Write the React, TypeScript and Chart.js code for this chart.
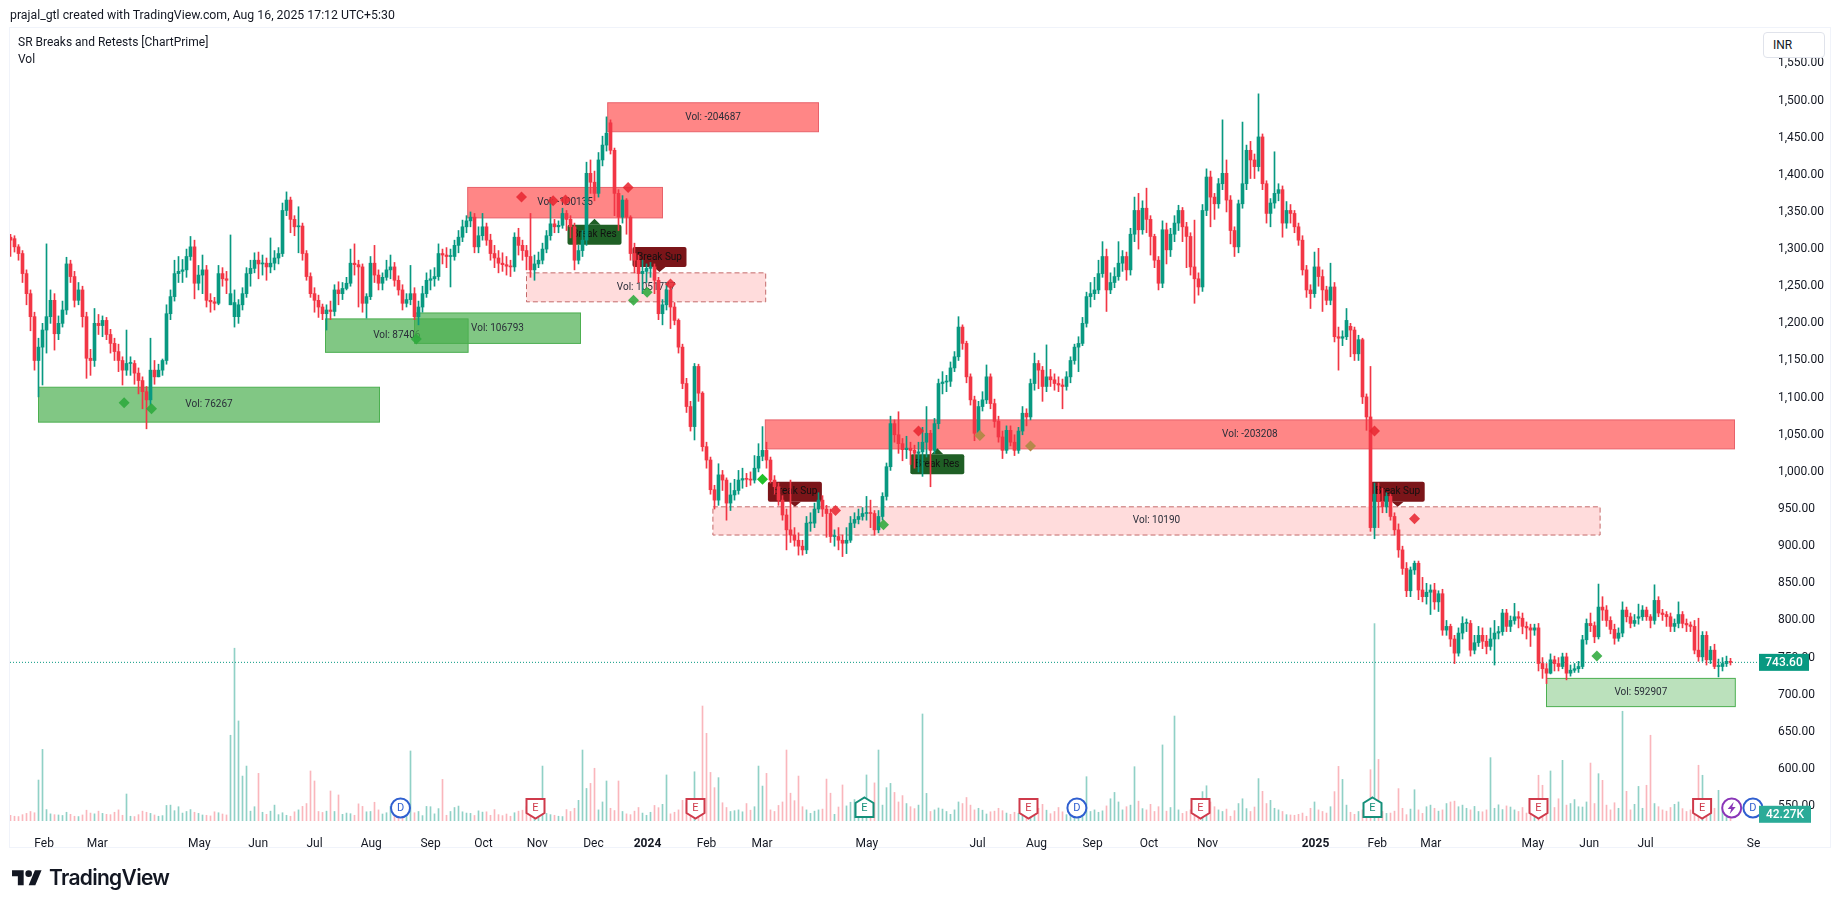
import { useEffect, useRef } from 'react'
import { Chart, registerables } from 'chart.js'

Chart.register(...registerables)

const UP = '#089981'
const DOWN = '#f23645'
const FONT = 'Roboto, "Open Sans", sans-serif'

const opens = [
  1316,1314,1303,1294,1267,1240,1209,1150,1168,1191,
  1209,1231,1186,1200,1218,1280,1263,1231,1245,1209,
  1153,1150,1200,1197,1204,1185,1173,1162,1150,1137,
  1146,1146,1133,1123,1108,1097,1137,1128,1137,1150,
  1213,1236,1267,1270,1272,1290,1303,1254,1265,1272,
  1231,1229,1227,1267,1260,1225,1209,1209,1225,1240,
  1267,1274,1285,1280,1281,1276,1281,1288,1294,1352,
  1366,1340,1330,1331,1294,1263,1240,1231,1222,1213,
  1218,1216,1245,1240,1247,1254,1281,1279,1276,1227,
  1236,1281,1265,1254,1262,1272,1276,1258,1245,1227,
  1232,1240,1209,1222,1240,1258,1260,1263,1294,1292,
  1290,1290,1305,1316,1330,1338,1343,1303,1318,1330,
  1312,1294,1288,1281,1279,1277,1276,1316,1305,1298,
  1290,1272,1280,1285,1300,1318,1334,1330,1332,1348,
  1340,1330,1285,1298,1312,1402,1390,1375,1420,1440,
  1470,1433,1375,1343,1366,1343,1294,1285,1267,1270,
  1274,1276,1258,1213,1225,1245,1222,1204,1168,1119,
  1088,1061,1142,1106,1034,1016,976,962,996,989,
  958,969,975,989,991,990,989,1005,1021,1029,
  1016,989,980,962,942,922,915,908,900,895,
  931,931,950,962,950,944,913,913,908,904,
  908,931,936,940,944,945,944,922,940,967,
  1007,1065,1050,1038,1030,1032,1029,1025,1027,1040,
  1052,1029,1065,1119,1121,1122,1140,1155,1195,1173,
  1128,1097,1052,1088,1097,1128,1092,1068,1047,1029,
  1056,1040,1029,1055,1079,1074,1119,1146,1137,1115,
  1128,1124,1119,1117,1115,1128,1150,1168,1173,1200,
  1236,1240,1245,1267,1290,1245,1255,1263,1281,1290,
  1272,1320,1352,1326,1355,1340,1317,1285,1254,1326,
  1299,1320,1335,1352,1330,1317,1276,1260,1249,1352,
  1397,1370,1361,1388,1402,1366,1325,1303,1361,1388,
  1433,1420,1411,1451,1388,1348,1362,1375,1380,1335,
  1352,1348,1330,1312,1272,1245,1240,1276,1263,1245,
  1231,1249,1182,1180,1182,1196,1191,1159,1178,
  1101,1074,925,970,960,953,967,940,922,895,
  870,840,868,877,841,832,838,841,825,836,
  787,792,775,756,783,796,796,760,770,780,
  772,765,775,783,785,810,792,800,805,803,
  792,790,787,790,742,735,729,747,742,738,
  751,729,733,735,738,774,796,793,778,818,
  814,800,788,776,783,814,805,796,803,
  805,814,805,800,827,810,808,805,792,796,
  808,796,794,792,760,751,780,747,760,738,
  738,742,745,
]
const highs = [
  1320,1318,1306,1298,1272,1245,1215,1180,1200,1307,
  1245,1240,1210,1230,1289,1285,1270,1255,1250,1215,
  1165,1220,1212,1210,1208,1192,1180,1172,1155,1191,
  1155,1150,1140,1128,1115,1180,1150,1145,1152,1225,
  1245,1285,1290,1286,1300,1317,1312,1278,1292,1278,
  1240,1235,1278,1275,1270,1319,1245,1232,1248,1275,
  1285,1295,1296,1292,1288,1315,1298,1302,1362,1377,
  1370,1345,1357,1335,1298,1268,1248,1238,1226,1225,
  1230,1252,1256,1255,1262,1300,1307,1285,1280,1240,
  1290,1305,1272,1268,1285,1292,1282,1264,1252,1240,
  1278,1248,1230,1250,1268,1272,1275,1307,1300,1302,
  1300,1312,1325,1339,1345,1350,1348,1330,1348,1335,
  1320,1305,1298,1295,1290,1285,1322,1328,1312,1305,
  1348,1292,1296,1308,1325,1366,1340,1338,1355,1352,
  1345,1335,1305,1325,1417,1420,1405,1430,1452,1478,
  1474,1436,1380,1372,1368,1345,1308,1292,1285,1280,
  1282,1280,1262,1232,1255,1250,1228,1206,1172,1126,
  1095,1146,1145,1108,1040,1020,982,1011,1002,992,
  985,990,1002,1005,998,1000,1022,1038,1061,1040,
  1020,995,985,968,950,989,925,918,908,940,
  945,958,972,968,955,950,922,925,915,925,
  940,945,950,952,967,962,948,948,972,1012,
  1075,1070,1081,1045,1048,1040,1036,1040,1060,1088,
  1056,1072,1125,1135,1130,1148,1162,1209,1198,1176,
  1132,1102,1095,1108,1144,1132,1098,1075,1055,1062,
  1062,1050,1060,1088,1085,1125,1160,1150,1142,1171,
  1138,1132,1128,1125,1135,1155,1172,1182,1208,1242,
  1255,1262,1285,1310,1300,1268,1275,1310,1298,1296,
  1328,1370,1375,1365,1382,1345,1320,1290,1338,1335,
  1328,1345,1359,1356,1336,1322,1339,1268,1360,1408,
  1405,1375,1395,1474,1420,1372,1330,1366,1471,1440,
  1445,1428,1509,1455,1392,1368,1431,1388,1385,1364,
  1360,1352,1335,1318,1278,1252,1296,1301,1272,1250,
  1281,1255,1195,1190,1220,1200,1195,1184,1180,
  1105,1142,985,985,978,972,970,945,930,900,
  878,872,880,880,858,850,848,850,840,842,
  800,795,780,790,805,802,800,780,792,790,
  780,790,800,792,815,815,806,823,812,810,
  798,795,795,796,750,742,755,752,750,756,
  756,740,742,745,780,802,810,798,849,832,
  820,805,795,790,825,818,810,808,822,
  820,818,808,848,832,815,812,810,802,825,
  812,802,798,800,803,785,785,765,768,748,
  750,752,749,
]
const lows = [
  1290,1296,1285,1255,1225,1190,1137,1101,1117,1160,
  1200,1164,1178,1195,1212,1255,1222,1225,1195,1126,
  1130,1142,1185,1182,1178,1160,1150,1135,1117,1130,
  1130,1118,1105,1085,1058,1090,1118,1128,1130,1145,
  1205,1230,1255,1255,1262,1285,1233,1245,1240,1222,
  1215,1218,1225,1250,1240,1225,1195,1200,1218,1235,
  1250,1268,1260,1265,1258,1268,1272,1280,1290,1345,
  1322,1318,1295,1285,1258,1235,1215,1208,1205,1191,
  1205,1210,1225,1232,1245,1250,1265,1222,1215,1207,
  1232,1255,1245,1245,1258,1260,1250,1238,1218,1222,
  1225,1205,1198,1215,1235,1245,1250,1258,1280,1275,
  1249,1285,1295,1310,1322,1330,1295,1295,1312,1305,
  1285,1275,1268,1270,1265,1263,1270,1292,1285,1272,
  1262,1258,1275,1280,1295,1312,1322,1322,1328,1325,
  1315,1272,1280,1290,1305,1375,1365,1370,1412,1432,
  1428,1345,1325,1335,1320,1285,1268,1255,1240,1255,
  1262,1240,1205,1198,1218,1193,1198,1160,1112,1080,
  1055,1043,1095,1028,1005,970,950,955,975,935,
  948,962,970,978,980,982,985,1000,1015,1005,
  985,970,955,935,895,905,900,888,888,890,
  920,925,945,940,912,905,900,895,886,890,
  905,925,930,935,935,925,915,918,935,962,
  1002,1040,1025,1015,1018,1010,1005,1000,994,1020,
  980,1025,1058,1105,1108,1115,1135,1150,1165,1120,
  1090,1042,1048,1082,1092,1085,1060,1040,1018,1025,
  1035,1022,1025,1050,1062,1070,1110,1112,1095,1108,
  1115,1110,1108,1085,1110,1120,1145,1135,1170,1195,
  1222,1232,1240,1262,1216,1240,1248,1258,1270,1258,
  1265,1310,1300,1320,1322,1292,1275,1245,1248,1280,
  1290,1310,1325,1310,1275,1265,1227,1238,1243,1345,
  1330,1340,1355,1380,1350,1307,1290,1295,1355,1380,
  1395,1395,1405,1380,1335,1330,1355,1365,1316,1328,
  1335,1322,1305,1265,1235,1220,1235,1250,1216,1225,
  1225,1175,1137,1170,1178,1155,1150,1150,1092,
  1056,920,910,925,945,945,935,915,885,862,
  832,832,862,828,825,822,808,815,812,780,
  780,765,742,752,775,785,752,755,765,762,
  755,760,740,775,780,785,785,795,790,782,
  775,765,780,732,722,715,728,732,732,735,
  720,725,730,730,735,768,785,770,775,800,
  792,782,768,772,778,798,790,792,795,
  800,800,790,795,805,800,792,785,785,790,
  790,785,785,755,745,745,740,742,735,724,
  732,738,740,
]
const closes = [
  1312,1303,1294,1267,1240,1209,1150,1168,1191,1209,
  1231,1186,1200,1218,1280,1263,1231,1245,1209,1153,
  1150,1200,1197,1204,1185,1173,1162,1150,1137,1146,
  1146,1133,1123,1108,1097,1137,1128,1137,1150,1213,
  1236,1267,1270,1272,1290,1303,1254,1265,1272,1231,
  1229,1227,1267,1260,1258,1240,1228,1225,1240,1267,
  1274,1285,1280,1281,1276,1281,1288,1294,1352,1366,
  1340,1330,1331,1294,1263,1240,1231,1222,1213,1218,
  1216,1245,1240,1247,1254,1281,1279,1276,1227,1236,
  1281,1265,1254,1262,1272,1276,1258,1245,1227,1232,
  1240,1209,1222,1240,1258,1260,1263,1294,1292,1290,
  1290,1305,1316,1330,1338,1343,1303,1318,1330,1312,
  1294,1288,1281,1279,1277,1276,1316,1305,1298,1290,
  1272,1280,1285,1300,1318,1334,1330,1332,1348,1340,
  1330,1285,1298,1312,1402,1390,1375,1420,1440,1456,
  1433,1375,1343,1366,1343,1294,1285,1267,1270,1274,
  1276,1258,1213,1225,1245,1222,1204,1168,1119,1088,
  1061,1142,1106,1034,1016,976,962,996,989,958,
  969,975,989,991,990,989,1005,1021,1029,1016,
  989,980,962,942,922,915,908,900,895,931,
  931,950,962,950,944,913,913,908,904,908,
  931,936,940,944,945,944,922,940,967,1007,
  1065,1050,1038,1030,1032,1029,1025,1027,1040,1052,
  1029,1065,1119,1121,1122,1140,1155,1195,1173,1128,
  1097,1052,1088,1097,1128,1092,1068,1047,1029,1056,
  1040,1029,1055,1079,1074,1119,1146,1137,1115,1128,
  1124,1119,1117,1115,1128,1150,1168,1173,1200,1236,
  1240,1245,1267,1290,1245,1255,1263,1281,1290,1272,
  1320,1352,1326,1355,1340,1317,1285,1254,1326,1299,
  1320,1335,1352,1330,1317,1276,1260,1249,1352,1397,
  1370,1361,1388,1402,1366,1325,1303,1361,1388,1433,
  1420,1411,1451,1388,1348,1362,1375,1380,1335,1352,
  1348,1330,1312,1272,1245,1240,1276,1263,1245,1231,
  1249,1182,1180,1182,1204,1191,1159,1178,1101,
  1074,925,970,960,953,967,940,922,895,870,
  840,868,877,841,832,838,841,825,836,787,
  792,775,756,783,796,796,760,770,780,772,
  765,775,783,785,810,792,800,805,803,792,
  790,787,790,742,735,729,747,742,738,751,
  729,733,735,738,774,796,793,778,818,814,
  800,788,776,783,814,805,796,800,805,
  814,805,800,827,810,808,805,792,796,808,
  796,794,792,760,751,780,747,760,738,738,
  742,745,743.6,
]
// volume in thousands
const volumes = [
  35,30,28,40,48,60,52,258,451,72,
  45,40,38,35,55,42,30,28,38,68,
  50,45,62,48,42,40,55,70,36,170,
  30,28,40,62,55,48,38,30,34,98,
  100,65,90,50,60,72,55,48,38,36,
  32,58,52,44,38,540,1088,630,283,346,
  62,90,300,55,42,62,100,40,52,36,
  30,58,70,92,110,315,252,60,54,62,
  189,60,164,42,50,46,36,108,92,58,
  60,118,70,44,52,92,30,58,70,110,
  441,52,60,34,92,90,45,78,262,36,
  60,85,94,58,50,48,35,64,56,58,
  36,72,40,34,44,30,52,62,68,90,
  60,50,90,346,48,40,36,30,28,72,
  60,80,130,447,205,237,332,70,120,252,
  80,66,252,60,45,40,62,85,50,36,
  55,98,84,105,290,45,55,70,130,115,
  90,310,140,724,552,306,210,273,115,85,
  60,65,70,58,110,68,90,346,220,300,
  70,60,98,120,447,175,128,283,90,70,
  48,62,70,75,264,175,42,88,227,95,
  118,135,60,85,290,120,240,447,100,210,
  237,180,120,160,110,90,78,100,674,174,
  60,70,82,75,60,42,70,120,110,148,
  100,70,80,68,44,58,62,80,65,50,
  42,55,48,60,70,48,35,80,105,68,
  46,60,85,58,40,70,62,88,42,279,
  60,70,55,64,95,140,180,120,70,90,
  100,342,125,78,70,105,60,90,479,62,
  85,661,70,48,60,70,58,92,185,222,
  120,90,70,60,75,30,65,110,140,78,
  60,88,267,187,110,130,80,70,60,40,
  38,36,42,50,30,80,120,70,60,50,
  90,185,344,262,100,55,42,60,70,
  62,323,1243,388,60,48,50,62,204,80,
  40,75,197,70,48,90,100,80,62,70,
  110,120,125,90,100,80,70,92,60,58,
  70,399,80,102,72,95,88,70,60,85,
  50,90,120,288,225,70,315,85,140,382,
  100,110,135,90,88,120,365,110,298,256,
  100,70,115,80,691,187,70,105,218,
  80,225,540,110,90,70,62,85,105,120,
  78,60,70,120,351,288,100,90,80,193,
  75,50,42.27,
]

const priceTicks = [550,600,650,700,750,800,850,900,950,1000,1050,1100,1150,1200,1250,1300,1350,1400,1450,1500,1550]
const timeLabels = ['Feb','Mar','May','Jun','Jul','Aug','Sep','Oct','Nov','Dec','2024','Feb','Mar','May','Jul','Aug','Sep','Oct','Nov','2025','Feb','Mar','May','Jun','Jul','Se']
const timeBars = [8.4,21.7,47.2,61.9,76,90.2,105,118.25,131.7,145.75,159.25,174,187.9,214.1,241.75,256.5,270.5,284.6,299.25,326.25,341.7,355.1,380.6,394.7,408.75,435.75]

// zones: bar range, price range
const zoneText = ['Vol: 76267','Vol: 87406','Vol: 106793','Vol: -100135','Vol: -204687','Vol: 1051777','Vol: -203208','Vol: 10190','Vol: 592907']
const zoneKind = ['green','green','green','red','red','paleRed','red','paleRed','paleGreen']
const zoneFrom = [7,78.75,101,114.3,149.3,129,188.7,175.6,384]
const zoneTo = [92.25,114.4,142.5,163,202,188.8,431,397.4,431.2]
const zoneTop = [1114,1206,1214,1383,1497,1268,1070,953,722]
const zoneBottom = [1067,1161,1173,1342,1458,1229,1031,915,684]

const flagText = ['Break Res','Break Sup','Break Sup','Break Res','Break Sup']
const flagBar = [146,162.25,196.1,231.7,346.8]
const flagPrice = [1341,1269,953,1032,953]

const redMarkBars = [127.75,135.65,138.75,154.4,165,206.25,227,341,351]
const redMarkPrices = [1370,1365,1366,1383,1253,948,1055,1055,937]
const greenMarkBars = [28.4,35.25,101.45,155.75,159.15,218.25,396.6]
const greenMarkPrices = [1093,1085,1179,1231,1242,929,752]
const limeMarkBars = [188]
const limeMarkPrices = [990]
const tanMarkBars = [242.35,255]
const tanMarkPrices = [1049,1035]

const eventKind = ['D','E','E','G','E','D','E','G','E','E','S','D']
const eventBar = [97.5,131.25,171.25,213.5,254.5,266.6,297.5,340.5,382,422.9,430.3,435.6]

const lastPrice = 743.6
const lastVolume = 42.27
const lastVolumeText = '42.27K'

const zoneStyle: Record<string, { fill: string; line: string; dash: number[] }> = {
  green: { fill: 'rgba(76,175,80,0.7)', line: '#4caf50', dash: [] },
  paleGreen: { fill: 'rgba(76,175,80,0.38)', line: '#4caf50', dash: [] },
  red: { fill: 'rgba(255,82,82,0.7)', line: '#e8616a', dash: [] },
  paleRed: { fill: 'rgba(255,82,82,0.2)', line: '#c46a6a', dash: [5, 3] },
}

const zonesPlugin = {
  id: 'zones',
  beforeDatasetsDraw(chart: any) {
    const { ctx, scales } = chart
    const x = scales.x
    const y = scales.y
    ctx.save()
    zoneText.forEach((text, i) => {
      const st = zoneStyle[zoneKind[i]]
      const left = x.getPixelForValue(zoneFrom[i])
      const right = x.getPixelForValue(zoneTo[i])
      const top = y.getPixelForValue(zoneTop[i])
      const bottom = y.getPixelForValue(zoneBottom[i])
      ctx.fillStyle = st.fill
      ctx.fillRect(left, top, right - left, bottom - top)
      ctx.strokeStyle = st.line
      ctx.lineWidth = 1
      ctx.setLineDash(st.dash)
      ctx.strokeRect(left, top, right - left, bottom - top)
      ctx.setLineDash([])
      ctx.fillStyle = '#2a2e39'
      ctx.font = `10px ${FONT}`
      ctx.textAlign = 'center'
      ctx.textBaseline = 'middle'
      ctx.fillText(text, (left + right) / 2, (top + bottom) / 2)
    })
    flagText.forEach((text, i) => {
      const px = x.getPixelForValue(flagBar[i])
      const py = y.getPixelForValue(flagPrice[i])
      const isRes = text === 'Break Res'
      const top = isRes ? py + 6 : py - 25
      ctx.fillStyle = isRes ? '#1f5f25' : '#7b1519'
      ctx.beginPath()
      ctx.roundRect(px - 27, top, 54, 20, 2)
      ctx.fill()
      ctx.beginPath()
      if (isRes) {
        ctx.moveTo(px - 6, py + 6)
        ctx.lineTo(px, py)
        ctx.lineTo(px + 6, py + 6)
      } else {
        ctx.moveTo(px - 6, py - 5)
        ctx.lineTo(px, py)
        ctx.lineTo(px + 6, py - 5)
      }
      ctx.fill()
      ctx.fillStyle = '#111111'
      ctx.font = `10px ${FONT}`
      ctx.textAlign = 'center'
      ctx.textBaseline = 'middle'
      ctx.fillText(text, px, top + 10)
    })
    ctx.restore()
  },
}

const drawShield = (ctx: any, cx: number, cy: number, pointUp: boolean, color: string) => {
  ctx.beginPath()
  if (pointUp) {
    ctx.moveTo(cx, cy - 10.5)
    ctx.lineTo(cx + 9, cy - 5)
    ctx.lineTo(cx + 9, cy + 9)
    ctx.lineTo(cx - 9, cy + 9)
    ctx.lineTo(cx - 9, cy - 5)
  } else {
    ctx.moveTo(cx - 9, cy - 9)
    ctx.lineTo(cx + 9, cy - 9)
    ctx.lineTo(cx + 9, cy + 5)
    ctx.lineTo(cx, cy + 10.5)
    ctx.lineTo(cx - 9, cy + 5)
  }
  ctx.closePath()
  ctx.fillStyle = '#ffffff'
  ctx.fill()
  ctx.strokeStyle = color
  ctx.lineWidth = 2
  ctx.stroke()
}

const eventsPlugin = {
  id: 'events',
  afterDatasetsDraw(chart: any) {
    const { ctx, scales, chartArea } = chart
    const cy = chartArea.bottom - 13
    ctx.save()
    eventKind.forEach((kind, i) => {
      const cx = scales.x.getPixelForValue(eventBar[i])
      let color = '#cf3a4b'
      if (kind === 'G') color = '#15907a'
      if (kind === 'D') color = '#2f5fd0'
      if (kind === 'S') color = '#8a35b8'
      if (kind === 'E' || kind === 'G') {
        drawShield(ctx, cx, cy, kind === 'G', color)
      } else {
        ctx.beginPath()
        ctx.arc(cx, cy, 9.5, 0, Math.PI * 2)
        ctx.fillStyle = '#ffffff'
        ctx.fill()
        ctx.strokeStyle = color
        ctx.lineWidth = 2
        ctx.stroke()
      }
      ctx.fillStyle = color
      if (kind === 'S') {
        ctx.beginPath()
        ctx.moveTo(cx + 2, cy - 6)
        ctx.lineTo(cx - 4, cy + 1)
        ctx.lineTo(cx - 0.5, cy + 1)
        ctx.lineTo(cx - 2, cy + 6)
        ctx.lineTo(cx + 4, cy - 1)
        ctx.lineTo(cx + 0.5, cy - 1)
        ctx.closePath()
        ctx.fill()
      } else {
        ctx.font = `11px ${FONT}`
        ctx.textAlign = 'center'
        ctx.textBaseline = 'middle'
        ctx.fillText(kind === 'G' ? 'E' : kind, cx, cy + 0.5)
      }
    })
    ctx.restore()
  },
  afterDraw(chart: any) {
    const { ctx, scales, chartArea } = chart
    const left = chartArea.right + 1
    ctx.save()
    ctx.font = `500 12px ${FONT}`
    ctx.textAlign = 'center'
    ctx.textBaseline = 'middle'
    const priceY = scales.y.getPixelForValue(lastPrice)
    ctx.fillStyle = UP
    ctx.fillRect(left, priceY - 8.5, 50, 17)
    ctx.fillStyle = '#ffffff'
    ctx.fillText(lastPrice.toFixed(2), left + 25, priceY + 0.5)
    const volY = scales.vol.getPixelForValue(lastVolume)
    ctx.fillStyle = '#2bab98'
    ctx.fillRect(left, volY - 8.5, 52, 17)
    ctx.fillStyle = '#ffffff'
    ctx.fillText(lastVolumeText, left + 26, volY + 0.5)
    ctx.restore()
  },
}

export default function App() {
  const canvasRef = useRef<HTMLCanvasElement>(null)

  useEffect(() => {
    if (!canvasRef.current) return
    const candleColors = closes.map((c, i) => (c >= opens[i] ? UP : DOWN))
    const volumeColors = closes.map((c, i) => (c >= opens[i] ? 'rgba(8,153,129,0.45)' : 'rgba(242,54,69,0.36)'))
    const marks = (xs: number[], ys: number[], color: string, label: string) => ({
      type: 'scatter' as const,
      label,
      data: xs.map((x, i) => ({ x, y: ys[i] })),
      pointStyle: 'rectRot',
      pointRadius: 5.5,
      backgroundColor: color,
      borderWidth: 0,
      yAxisID: 'y',
      order: 1,
    })

    const chart = new Chart(canvasRef.current, {
      type: 'bar',
      data: {
        datasets: [
          {
            label: 'Vol',
            data: volumes.map((v, i) => ({ x: i, y: v })),
            backgroundColor: volumeColors,
            barThickness: 1,
            yAxisID: 'vol',
            grouped: false,
            order: 5,
          },
          {
            type: 'line',
            label: 'Last',
            data: [{ x: -0.125, y: lastPrice }, { x: 436.875, y: lastPrice }],
            borderColor: UP,
            borderWidth: 1,
            borderDash: [1, 2],
            pointRadius: 0,
            yAxisID: 'y',
            order: 4,
          },
          {
            label: 'Wick',
            data: lows.map((l, i) => ({ x: i, y: [l, highs[i]] })),
            backgroundColor: candleColors,
            barThickness: 1,
            yAxisID: 'y',
            grouped: false,
            order: 3,
          },
          {
            label: 'Body',
            data: opens.map((o, i) => ({ x: i, y: [o, closes[i]] })),
            backgroundColor: candleColors,
            barThickness: 3,
            minBarLength: 1,
            yAxisID: 'y',
            grouped: false,
            order: 2,
          },
          marks(redMarkBars, redMarkPrices, 'rgba(232,40,50,0.88)', 'Retest res'),
          marks(greenMarkBars, greenMarkPrices, 'rgba(46,170,60,0.88)', 'Retest sup'),
          marks(limeMarkBars, limeMarkPrices, '#22c02a', 'Retest new'),
          marks(tanMarkBars, tanMarkPrices, '#b5884a', 'Retest mixed'),
        ] as any,
      },
      options: {
        responsive: false,
        animation: false,
        events: [],
        layout: { padding: { left: 10, right: 0, top: 27, bottom: 58 } },
        plugins: { legend: { display: false }, tooltip: { enabled: false } },
        scales: {
          x: {
            type: 'linear',
            offset: false,
            min: -0.125,
            max: 436.875,
            grid: { display: false },
            border: { display: false },
            afterBuildTicks: (scale: any) => {
              scale.ticks = timeBars.map((value) => ({ value }))
            },
            afterFit: (scale: any) => {
              scale.height = 30
            },
            ticks: {
              autoSkip: false,
              maxRotation: 0,
              padding: 8,
              color: '#131722',
              font: (c: any) => ({
                family: FONT,
                size: 12,
                weight: /^\d/.test(timeLabels[c.index] ?? '') ? 'bold' : 'normal',
              }),
              callback: (_v: any, i: number) => timeLabels[i],
            },
          },
          y: {
            position: 'right',
            min: 530,
            max: 1599,
            grid: { display: false },
            border: { display: false },
            afterBuildTicks: (scale: any) => {
              scale.ticks = priceTicks.map((value) => ({ value }))
            },
            afterFit: (scale: any) => {
              scale.width = 77
            },
            ticks: {
              autoSkip: false,
              crossAlign: 'near',
              padding: 12,
              color: '#131722',
              font: { family: FONT, size: 12 },
              callback: (v: any) =>
                Number(v).toLocaleString('en-US', { minimumFractionDigits: 2, maximumFractionDigits: 2 }),
            },
          },
          vol: {
            display: false,
            min: 0,
            max: 5000,
          },
        },
      } as any,
      plugins: [zonesPlugin, eventsPlugin],
    })
    return () => chart.destroy()
  }, [])

  const text = { position: 'absolute', fontFamily: FONT, color: '#131722', whiteSpace: 'nowrap' } as const

  return (
    <div style={{ position: 'fixed', left: 0, top: 0, width: 1835, height: 909, background: '#fff', overflow: 'hidden' }}>
      <div style={{ position: 'absolute', left: 9, top: 27, width: 1822, height: 821, border: '1px solid #f0f3fa', boxSizing: 'border-box' }} />
      <canvas ref={canvasRef} width={1835} height={909} style={{ position: 'absolute', left: 0, top: 0, display: 'block' }} />
      <div style={{ ...text, left: 10, top: 8, fontSize: 12.3 }}>prajal_gtl created with TradingView.com, Aug 16, 2025 17:12 UTC+5:30</div>
      <div style={{ ...text, left: 18, top: 35, fontSize: 12 }}>SR Breaks and Retests [ChartPrime]</div>
      <div style={{ ...text, left: 18, top: 52, fontSize: 12 }}>Vol</div>
      <div style={{ ...text, left: 1763, top: 32, width: 62, height: 26, boxSizing: 'border-box', border: '1px solid #e0e3eb', borderRadius: 4, background: '#fff', fontSize: 12, lineHeight: '24px', paddingLeft: 9 }}>INR</div>
      <svg width={30} height={23.3} viewBox="0 0 36 28" style={{ position: 'absolute', left: 12, top: 866.7 }}>
        <path d="M14 22H7V11H0V4h14v18zM28 22h-8l7.5-18h8L28 22z" fill="#131722" />
        <circle cx={20} cy={8} r={4} fill="#131722" />
      </svg>
      <div style={{ ...text, left: 49, top: 865, fontFamily: 'Inter, sans-serif', fontWeight: 600, fontSize: 21, letterSpacing: -0.7 }}>TradingView</div>
    </div>
  )
}
